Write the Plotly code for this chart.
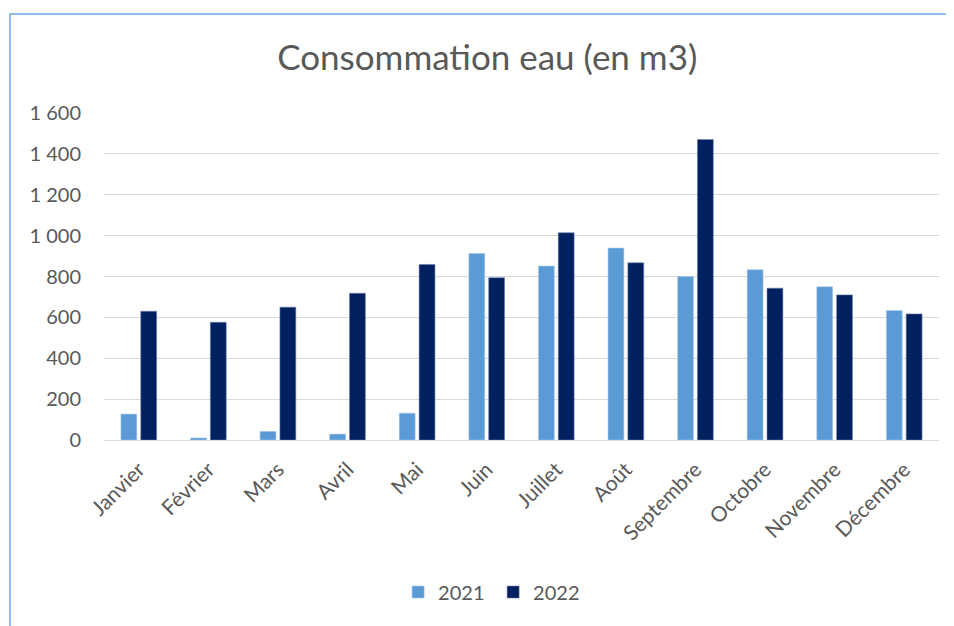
import plotly.graph_objects as go

months = ["Janvier", "Février", "Mars", "Avril", "Mai", "Juin", "Juillet",
          "Août", "Septembre", "Octobre", "Novembre", "Décembre"]
conso_2021 = [127, 10, 42, 29, 131, 913, 851, 939, 800, 833, 750, 634]
conso_2022 = [630, 576, 650, 718, 859, 794, 1014, 867, 1470, 743, 710, 617]

FONT = "Lato"
GREY = "#595959"

fig = go.Figure()
fig.add_trace(go.Bar(x=months, y=conso_2021, name="2021",
                     marker=dict(color="#5B9BD5", line=dict(color="#A9C8EA", width=0.6))))
fig.add_trace(go.Bar(x=months, y=conso_2022, name="2022",
                     marker=dict(color="#002060", line=dict(color="#6F7FA8", width=0.6))))

# page body adds an 8px margin, so the figure is 8px smaller than the window
fig.update_layout(
    width=946, height=618,
    margin=dict(l=96, r=15, t=105, b=186),
    paper_bgcolor="white", plot_bgcolor="white",
    separators=", ",
    barmode="group", bargap=0.43, bargroupgap=0.2,
    font=dict(family=FONT, color=GREY, size=20),
    title=dict(text="Consommation eau (en m3)", x=0.459, xref="paper",
               xanchor="center", y=1 - 50 / 618, yref="container", yanchor="middle",
               font=dict(family=FONT, size=35, color=GREY)),
    legend=dict(orientation="h", x=0.466, xanchor="center", y=-0.465,
                yanchor="middle", font=dict(size=20, color=GREY),
                itemwidth=30, entrywidth=50, traceorder="normal"),
    shapes=[dict(type="rect", xref="paper", yref="paper",
                 x0=-0.1126, x1=1.0132, y0=-0.65, y1=1.3028,
                 line=dict(color="#6FA8DC", width=1.5), layer="below")],
)
fig.update_yaxes(range=[0, 1600], dtick=200, tickformat=",d",
                 showgrid=True, gridcolor="#D9D9D9", gridwidth=1,
                 zeroline=False, ticks="", ticklabelstandoff=22,
                 tickfont=dict(size=20, color=GREY))
fig.update_xaxes(tickangle=-45, showline=True, linecolor="#D9D9D9", linewidth=1,
                 ticks="", ticklabelstandoff=8, tickfont=dict(size=21, color=GREY))

fig.write_html("out.html")
